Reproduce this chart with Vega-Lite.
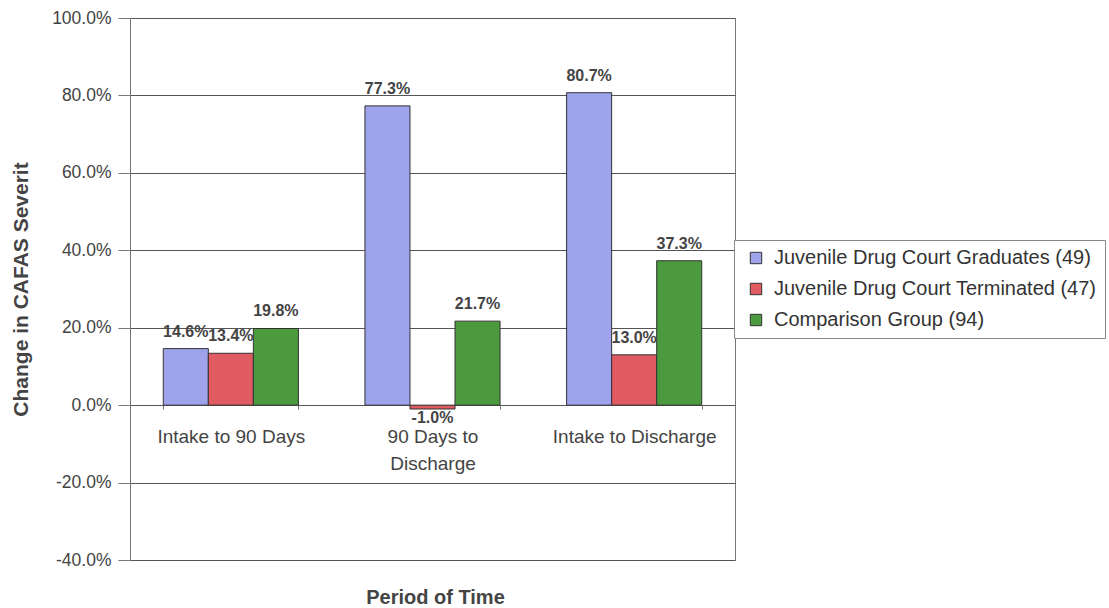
{
  "$schema": "https://vega.github.io/schema/vega-lite/v6.json",
  "width": 605,
  "height": 542,
  "autosize": {"type": "none"},
  "padding": {"left": 130, "top": 18, "right": 374, "bottom": 48},
  "background": "white",
  "config": {
    "font": "Liberation Sans",
    "view": {"stroke": "#777", "strokeWidth": 1},
    "locale": {
      "number": {"decimal": ".", "thousands": ",", "grouping": [3], "currency": ["$", ""], "minus": "-"}
    }
  },
  "data": {
    "values": [
      {"period": "Intake to 90 Days", "group": "Juvenile Drug Court Graduates (49)", "value": 0.146},
      {"period": "Intake to 90 Days", "group": "Juvenile Drug Court Terminated (47)", "value": 0.134},
      {"period": "Intake to 90 Days", "group": "Comparison Group (94)", "value": 0.198},
      {"period": "90 Days to Discharge", "group": "Juvenile Drug Court Graduates (49)", "value": 0.773},
      {"period": "90 Days to Discharge", "group": "Juvenile Drug Court Terminated (47)", "value": -0.01},
      {"period": "90 Days to Discharge", "group": "Comparison Group (94)", "value": 0.217},
      {"period": "Intake to Discharge", "group": "Juvenile Drug Court Graduates (49)", "value": 0.807},
      {"period": "Intake to Discharge", "group": "Juvenile Drug Court Terminated (47)", "value": 0.13},
      {"period": "Intake to Discharge", "group": "Comparison Group (94)", "value": 0.373}
    ]
  },
  "encoding": {
    "x": {
      "field": "period",
      "type": "nominal",
      "sort": ["Intake to 90 Days", "90 Days to Discharge", "Intake to Discharge"],
      "scale": {"paddingInner": 0.33, "paddingOuter": 0.165},
      "axis": {
        "title": "Period of Time",
        "titleFontSize": 20,
        "titleFontWeight": "bold",
        "titleColor": "#444",
        "titleX": 305,
        "titleY": 192,
        "titleBaseline": "middle",
        "offset": -155,
        "labelAngle": 0,
        "labelFontSize": 19,
        "labelColor": "#444",
        "labelPadding": 18,
        "labelLineHeight": 27,
        "labelExpr": "datum.label == '90 Days to Discharge' ? ['90 Days to', 'Discharge'] : datum.label",
        "domain": false,
        "ticks": true,
        "tickBand": "extent",
        "tickSize": 4,
        "tickColor": "#777"
      }
    },
    "xOffset": {
      "field": "group",
      "type": "nominal",
      "sort": ["Juvenile Drug Court Graduates (49)", "Juvenile Drug Court Terminated (47)", "Comparison Group (94)"]
    },
    "y": {
      "field": "value",
      "type": "quantitative",
      "scale": {"domain": [-0.4, 1.0], "nice": false, "zero": false},
      "axis": {
        "title": "Change in CAFAS Severit",
        "titleFontSize": 21,
        "titleFontWeight": "bold",
        "titleColor": "#444",
        "titlePadding": 20,
        "format": ".1%",
        "values": [-0.4, -0.2, 0, 0.2, 0.4, 0.6, 0.8, 1.0],
        "labelFontSize": 17.5,
        "labelColor": "#444",
        "labelPadding": 7,
        "tickSize": 12,
        "tickColor": "#777",
        "domainColor": "#777",
        "gridColor": "#555",
        "gridWidth": 1
      }
    }
  },
  "layer": [
    {
      "mark": {"type": "bar", "stroke": "#333", "strokeWidth": 1},
      "encoding": {
        "color": {
          "field": "group",
          "type": "nominal",
          "scale": {
            "domain": ["Juvenile Drug Court Graduates (49)", "Juvenile Drug Court Terminated (47)", "Comparison Group (94)"],
            "range": ["#9fa3ec", "#e05c62", "#4c9a3e"]
          },
          "legend": {
            "title": null,
            "orient": "none",
            "legendX": 604,
            "legendY": 222,
            "labelFontSize": 20,
            "labelColor": "#333",
            "symbolType": "square",
            "symbolSize": 130,
            "symbolStrokeColor": "#333",
            "symbolStrokeWidth": 1,
            "symbolOffset": 4,
            "labelOffset": 8,
            "rowPadding": 11,
            "padding": 8,
            "strokeColor": "#888",
            "fillColor": "white",
            "labelLimit": 400
          }
        }
      }
    },
    {
      "transform": [{"filter": "datum.value >= 0"}],
      "mark": {"type": "text", "baseline": "bottom", "dy": -9, "fontSize": 16, "fontWeight": "bold", "color": "#444"},
      "encoding": {"text": {"field": "value", "type": "quantitative", "format": ".1%"}}
    },
    {
      "transform": [{"filter": "datum.value < 0"}],
      "mark": {"type": "text", "baseline": "top", "dy": 1, "fontSize": 16, "fontWeight": "bold", "color": "#444"},
      "encoding": {"text": {"field": "value", "type": "quantitative", "format": ".1%"}}
    }
  ]
}
